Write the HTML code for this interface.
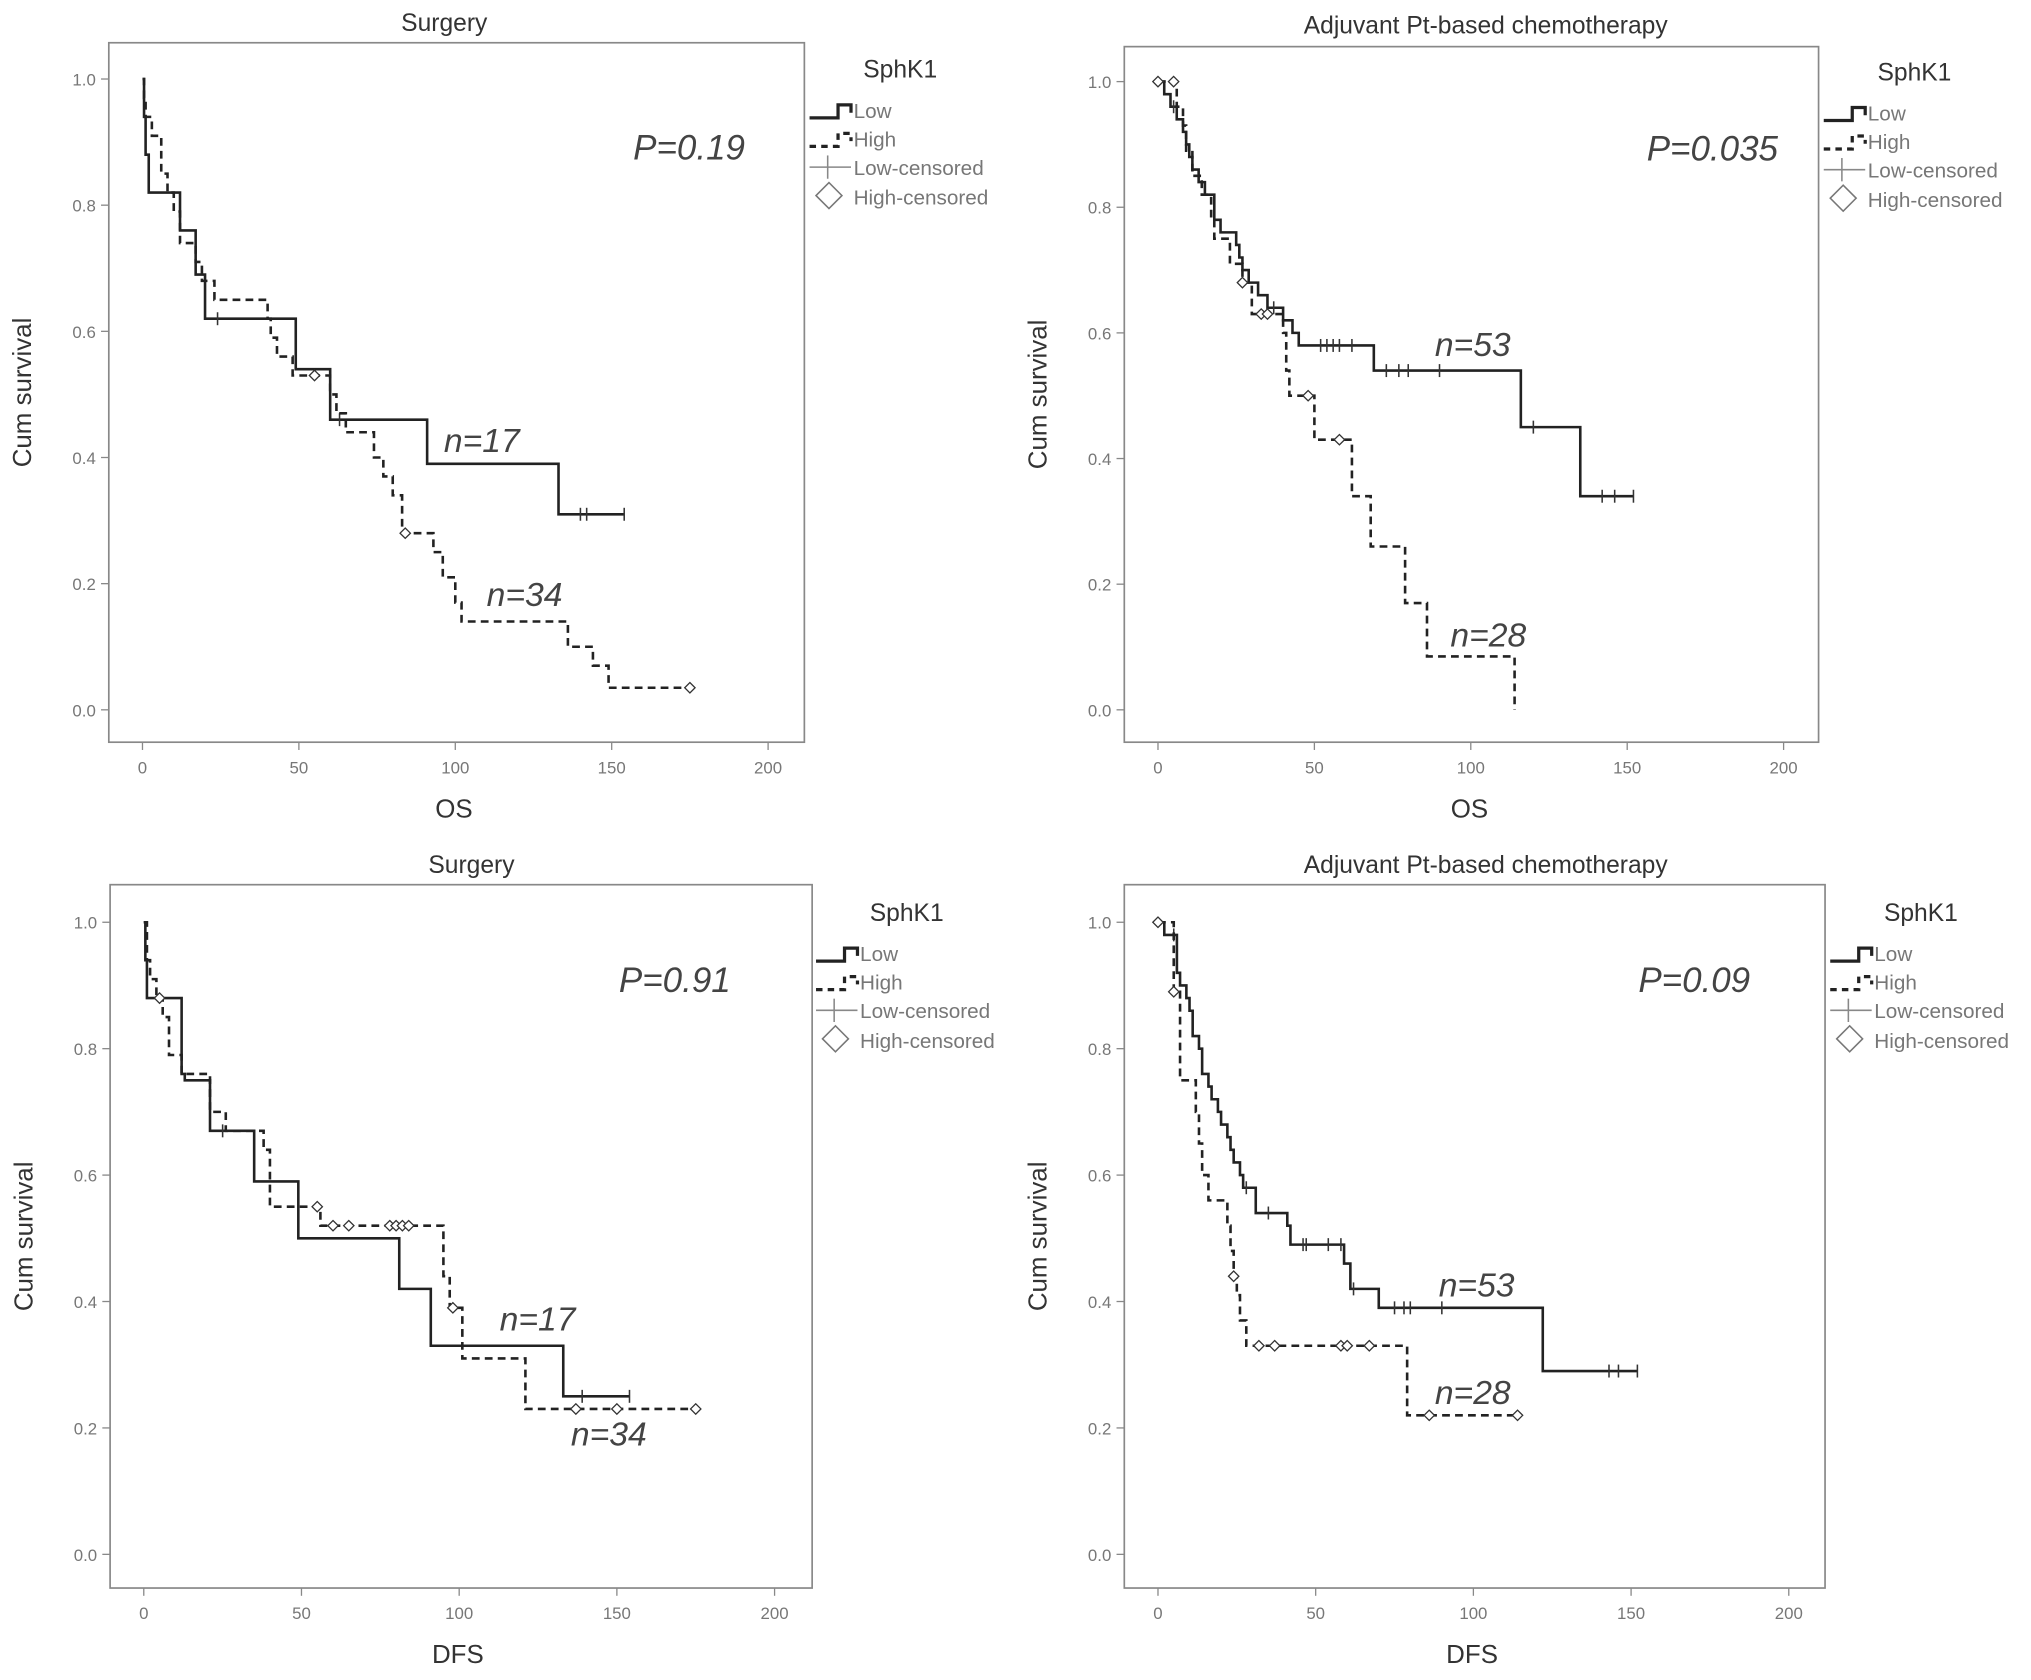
<!DOCTYPE html>
<html><head><meta charset="utf-8"><style>
html,body{margin:0;padding:0;background:#fff}
svg{display:block}
text{font-family:"Liberation Sans",sans-serif}
</style></head><body>
<svg id="fig" width="2031" height="1680" viewBox="0 0 1568 1297" preserveAspectRatio="none" xmlns="http://www.w3.org/2000/svg"></svg>
<script>
// ---- data (time in months, cumulative survival after each event) ----
const xTicks=[0,50,100,150,200];
const yTicks=[0.0,0.2,0.4,0.6,0.8,1.0];
// Panel A: Surgery OS
const aLowT=[0.5,1,2,12,17,20,49,60,91,133];
const aLowS=[0.94,0.88,0.82,0.76,0.69,0.62,0.54,0.46,0.39,0.31];
const aLowEnd=154;
const aLowCens=[24,63,140,142,154];
const aHighT=[0.5,1,3,6,8,10,12,17,19,23,40,41,43,48,60,62,65,74,77,80,83,93,96,100,102,136,144,149];
const aHighS=[0.97,0.94,0.91,0.85,0.82,0.79,0.74,0.71,0.68,0.65,0.62,0.59,0.56,0.53,0.50,0.47,0.44,0.40,0.37,0.34,0.28,0.25,0.21,0.17,0.14,0.10,0.07,0.035];
const aHighEnd=175;
const aHighCens=[55,84,175];
// Panel B: Chemo OS
const bLowT=[2,4,6,8,9,10,11,13,15,18,20,25,26,27,29,32,35,40,43,45,69,116,135];
const bLowS=[0.98,0.96,0.94,0.92,0.90,0.88,0.86,0.84,0.82,0.78,0.76,0.74,0.72,0.70,0.68,0.66,0.64,0.62,0.60,0.58,0.54,0.45,0.34];
const bLowEnd=152;
const bLowCens=[5,37,52,54,56,58,62,73,77,80,90,120,142,146,152];
const bHighT=[6,8,9,11,14,17,18,23,27,30,40,41,42,50,62,68,79,86,114];
const bHighS=[0.96,0.93,0.89,0.85,0.82,0.78,0.75,0.71,0.68,0.63,0.60,0.54,0.50,0.43,0.34,0.26,0.17,0.085,0.0];
const bHighEnd=114;
const bHighCens=[0,5,27,33,35,48,58];
// Panel C: Surgery DFS
const cLowT=[0.5,1,12,13,21,35,49,81,91,133];
const cLowS=[0.94,0.88,0.76,0.75,0.67,0.59,0.50,0.42,0.33,0.25];
const cLowEnd=154;
const cLowCens=[25,139,154];
const cHighT=[1,2,4,6,8,12,21,26,38,40,56,95,97,101,121];
const cHighS=[0.94,0.91,0.88,0.85,0.79,0.76,0.70,0.67,0.64,0.55,0.52,0.44,0.39,0.31,0.23];
const cHighEnd=175;
const cHighCens=[5,55,60,65,78,80,82,84,98,137,150,175];
// Panel D: Chemo DFS
const dLowT=[2,6,7,9,10,11,13,14,16,17,19,20,22,23,24,26,27,31,41,42,59,61,70,122];
const dLowS=[0.98,0.92,0.90,0.88,0.86,0.82,0.80,0.76,0.74,0.72,0.70,0.68,0.66,0.64,0.62,0.60,0.58,0.54,0.52,0.49,0.46,0.42,0.39,0.29];
const dLowEnd=152;
const dLowCens=[5,28,35,46,47,54,58,62,75,78,80,90,143,146,152];
const dHighT=[5,7,12,13,14,16,22,23,24,25,26,28,79];
const dHighS=[0.89,0.75,0.70,0.65,0.60,0.56,0.52,0.48,0.44,0.41,0.37,0.33,0.22];
const dHighEnd=114;
const dHighCens=[0,5,24,32,37,58,60,67,86,114];

const panels=[
 {id:'os-surgery',title:'Surgery',xl:'OS',p:'P=0.19',bx:[84,621,33,573],x0:110,x200:593,y1:61,y0:548,tx:343,ty:24,
  leg:[625,53],pv:[532,114],
  low:[aLowT,aLowS,aLowEnd,aLowCens],high:[aHighT,aHighS,aHighEnd,aHighCens],
  nLow:[372,340],nHigh:[405,459]},
 {id:'os-chemo',title:'Adjuvant Pt-based chemotherapy',xl:'OS',p:'P=0.035',bx:[868,1404,36,573],x0:894,x200:1377,y1:63,y0:548,tx:1147,ty:26,
  leg:[1408,55],pv:[1322,115],
  low:[bLowT,bLowS,bLowEnd,bLowCens],high:[bHighT,bHighS,bHighEnd,bHighCens],
  nLow:[1137,266],nHigh:[1149,490]},
 {id:'dfs-surgery',title:'Surgery',xl:'DFS',p:'P=0.91',bx:[85,627,683,1226],x0:111,x200:598,y1:712,y0:1200,tx:364,ty:674,
  leg:[630,704],pv:[521,757],
  low:[cLowT,cLowS,cLowEnd,cLowCens],high:[cHighT,cHighS,cHighEnd,cHighCens],
  nLow:[415,1018],nHigh:[470,1107]},
 {id:'dfs-chemo',title:'Adjuvant Pt-based chemotherapy',xl:'DFS',p:'P=0.09',bx:[868,1409,683,1226],x0:894,x200:1381,y1:712,y0:1200,tx:1147,ty:674,
  leg:[1413,704],pv:[1308,757],
  low:[dLowT,dLowS,dLowEnd,dLowCens],high:[dHighT,dHighS,dHighEnd,dHighCens],
  nLow:[1140,992],nHigh:[1137,1075]}
];
const NS='http://www.w3.org/2000/svg';
const svg=document.getElementById('fig');
function mk(tag,attrs,parent,txt){const e=document.createElementNS(NS,tag);for(const k in attrs)e.setAttribute(k,attrs[k]);if(txt!==undefined)e.textContent=txt;(parent||svg).appendChild(e);return e;}
function survAt(T,S,t){let s=1;for(let i=0;i<T.length;i++){if(T[i]<=t)s=S[i];}return s;}

panels.forEach(P=>{
 const g=mk('g',{});
 
 
 const X=v=>P.x0+(P.x200-P.x0)*v/200, Y=v=>P.y0-(P.y0-P.y1)*v;
 const [l,r,t,b]=P.bx;
 const fr=mk('rect',{x:l,y:t,width:r-l,height:b-t,fill:'none',stroke:'#888','stroke-width':1.3},g);
 
 
 const ti=mk('text',{x:P.tx,y:P.ty,'text-anchor':'middle','font-size':19,fill:'#333'},g,P.title);
 
 
 yTicks.forEach(v=>{
  mk('line',{x1:l-6,x2:l,y1:Y(v),y2:Y(v),stroke:'#888','stroke-width':1},g);
  const tl=mk('text',{x:l-10,y:Y(v)+5,'text-anchor':'end','font-size':13,fill:'#777'},g,v.toFixed(1));
  
  
 });
 xTicks.forEach(v=>{
  mk('line',{x1:X(v),x2:X(v),y1:b,y2:b+6,stroke:'#888','stroke-width':1},g);
  const tl=mk('text',{x:X(v),y:b+24,'text-anchor':'middle','font-size':13,fill:'#777'},g,String(v));
  
  
 });
 const yt=mk('text',{x:0,y:0,transform:`translate(${l-60},${(t+b)/2}) rotate(-90)`,'text-anchor':'middle','font-size':20,fill:'#333'},g,'Cum survival');
 
 
 const xt=mk('text',{x:X(100)-1,y:b+58,'text-anchor':'middle','font-size':20,fill:'#333'},g,P.xl);
 
 
 // curves
 [['low',P.low,'none'],['high',P.high,'6,4']].forEach(([nm,d,dash])=>{
  const [T,S,end,C]=d;
  let path=`M${X(0)},${Y(1)}`;let s=1;
  for(let i=0;i<T.length;i++){path+=` H${X(T[i])} V${Y(S[i])}`;s=S[i];}
  if(S[S.length-1]>0||end>T[T.length-1])path+=` H${X(end)}`;
  const pe=mk('path',{d:path,fill:'none',stroke:'#222','stroke-width':2,'stroke-dasharray':dash},g);
  
  
  C.forEach(c=>{
   const cx=X(c),cy=Y(survAt(T,S,c));
   if(nm==='low'){
    const m=mk('line',{x1:cx,x2:cx,y1:cy-5,y2:cy+5,stroke:'#333','stroke-width':1.2},g);
    
    
   }else{
    const m=mk('path',{d:`M${cx-4},${cy} L${cx},${cy-4} L${cx+4},${cy} L${cx},${cy+4} Z`,fill:'#fff',stroke:'#333','stroke-width':1},g);
    
    
   }
  });
 });
 // annotations
 const pv=mk('text',{x:P.pv[0],y:P.pv[1]+9,'text-anchor':'middle','font-size':27,'font-style':'italic',fill:'#444'},g,P.p);
 
 
 const n1=mk('text',{x:P.nLow[0],y:P.nLow[1]+9,'text-anchor':'middle','font-size':26,'font-style':'italic',fill:'#444'},g,P.id.startsWith('os-s')||P.id.startsWith('dfs-s')?'n=17':'n=53');
 
 
 const n2=mk('text',{x:P.nHigh[0],y:P.nHigh[1]+9,'text-anchor':'middle','font-size':26,'font-style':'italic',fill:'#444'},g,P.id.startsWith('os-s')||P.id.startsWith('dfs-s')?'n=34':'n=28');
 
 
 // legend
 const [lx,ly]=P.leg;
 const lg=mk('g',{},g);
 
 
 mk('text',{x:lx+70,y:ly+7,'text-anchor':'middle','font-size':19,fill:'#333'},lg,'SphK1');
 mk('path',{d:`M${lx},${ly+38} H${lx+22} V${ly+28} H${lx+32} V${ly+34}`,fill:'none',stroke:'#222','stroke-width':2.5},lg);
 mk('text',{x:lx+34,y:ly+38,'font-size':16,fill:'#777'},lg,'Low');
 mk('path',{d:`M${lx},${ly+60} H${lx+22} V${ly+50} H${lx+32} V${ly+56}`,fill:'none',stroke:'#222','stroke-width':2.5,'stroke-dasharray':'5,4'},lg);
 mk('text',{x:lx+34,y:ly+60,'font-size':16,fill:'#777'},lg,'High');
 mk('line',{x1:lx,x2:lx+32,y1:ly+76,y2:ly+76,stroke:'#888','stroke-width':1.2},lg);
 mk('line',{x1:lx+14,x2:lx+14,y1:ly+67,y2:ly+85,stroke:'#888','stroke-width':1.2},lg);
 mk('text',{x:lx+34,y:ly+82,'font-size':16,fill:'#777'},lg,'Low-censored');
 mk('path',{d:`M${lx+5},${ly+98} L${lx+15},${ly+88} L${lx+25},${ly+98} L${lx+15},${ly+108} Z`,fill:'#fff',stroke:'#777','stroke-width':1.2},lg);
 mk('text',{x:lx+34,y:ly+105,'font-size':16,fill:'#777'},lg,'High-censored');
});
</script>
</body></html>
